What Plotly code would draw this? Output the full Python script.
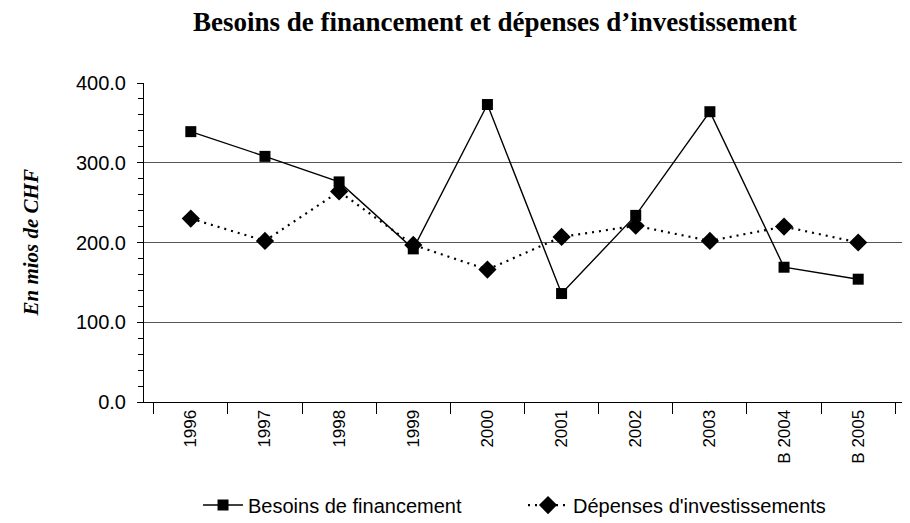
import plotly.graph_objects as go

# Data (millions CHF)
years = ['1996', '1997', '1998', '1999', '2000', '2001', '2002', '2003', 'B 2004', 'B 2005']
besoins = [339, 308, 276, 192, 373, 136, 234, 364, 169, 154]
depenses = [230, 202, 264, 197, 166, 207, 221, 202, 220, 200]

fig = go.Figure()

fig.add_trace(go.Scatter(
    x=years, y=besoins, name='Besoins de financement',
    mode='lines+markers',
    line=dict(color='black', width=1.4),
    marker=dict(symbol='square', size=11, color='black'),
))
fig.add_trace(go.Scatter(
    x=years, y=depenses, name="Dépenses d'investissements",
    mode='lines+markers',
    line=dict(color='black', width=2.2, dash='2px,5px'),
    marker=dict(symbol='diamond', size=14, color='black'),
))

# page body has an 8px margin, so the figure is a bit smaller than the window
fig.update_layout(
    width=902, height=515,
    margin=dict(l=136, r=5, t=75, b=121, autoexpand=False),
    paper_bgcolor='white', plot_bgcolor='white',
    font=dict(family='Liberation Sans, Arial', size=17, color='black'),
    title=dict(
        text='<b>Besoins de financement et dépenses d’investissement</b>',
        font=dict(family='Liberation Serif, Times New Roman', size=27, color='black'),
        x=0.461, xref='paper', xanchor='center',
        y=1 - 14 / 515, yref='container', yanchor='middle',
    ),
    showlegend=True,
    legend=dict(orientation='h', x=0.071, xref='paper', xanchor='left',
                y=-0.323, yanchor='middle', font=dict(size=20), itemwidth=40,
                entrywidth=270, entrywidthmode='pixels'),
)

fig.update_xaxes(
    type='category', showline=True, linecolor='black', linewidth=1,
    ticks='outside', tickson='boundaries', ticklen=11, tickcolor='black',
    tickangle=-90, showgrid=False, tickfont=dict(size=17),
)
fig.update_yaxes(
    range=[0, 400], dtick=100, tickformat='.1f',
    showline=True, linecolor='black', linewidth=1,
    ticks='outside', ticklen=6, tickcolor='black', ticklabelstandoff=7,
    minor=dict(ticks='outside', dtick=20, ticklen=5, tickcolor='black', showgrid=False),
    showgrid=True, gridcolor='#555555', gridwidth=1,
    zeroline=False, tickfont=dict(size=20),
)

fig.add_annotation(
    text='<b><i>En mios de CHF</i></b>', textangle=-90,
    xref='paper', yref='paper', x=-0.1485, y=0.5, xanchor='center', yanchor='middle',
    showarrow=False, font=dict(family='Liberation Serif, Times New Roman', size=21),
)

fig.write_html('out.html')
